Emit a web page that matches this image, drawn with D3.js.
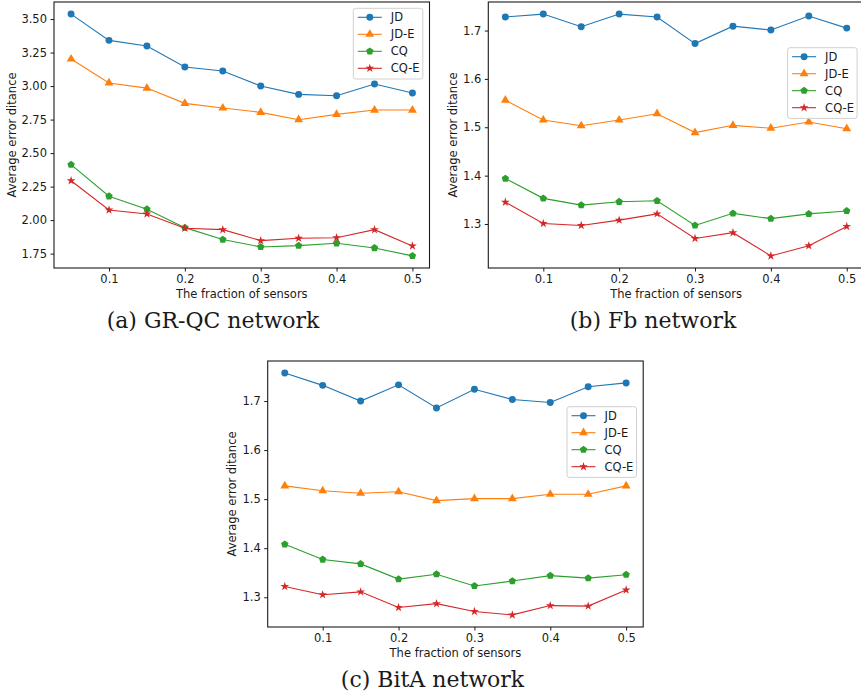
<!DOCTYPE html>
<meta charset="UTF-8">
<style>
body { margin: 0; background: #fff; }
svg { display: block; }
.tick text { font: 11.5px "DejaVu Sans", sans-serif; fill: #1a1a1a; }
.tick line { stroke: #1a1a1a; }
.axis-label { font: 11.5px "DejaVu Sans", sans-serif; fill: #1a1a1a; }
.caption { font: 22px "DejaVu Serif", serif; fill: #1a1a1a; }
.legend text { font: 11.5px "DejaVu Sans", sans-serif; fill: #1a1a1a; }
.frame { fill: none; stroke: #1a1a1a; stroke-width: 1.1; }
.series path.line { fill: none; stroke-width: 1.1; }
</style>
<body>
<script src="https://d3js.org/d3.v7.min.js"></script>
<script>
// x values: fraction of sensors
var fractions = [0.05, 0.1, 0.15, 0.2, 0.25, 0.3, 0.35, 0.4, 0.45, 0.5];
var xTicks = [0.1, 0.2, 0.3, 0.4, 0.5];
var seriesNames = ["JD", "JD-E", "CQ", "CQ-E"];

// (a) GR-QC network
var grqcJD  = [3.537, 3.341, 3.299, 3.142, 3.112, 3.000, 2.938, 2.928, 3.015, 2.948];
var grqcJDE = [3.202, 3.023, 2.985, 2.871, 2.836, 2.804, 2.749, 2.789, 2.821, 2.821];
var grqcCQ  = [2.414, 2.178, 2.081, 1.944, 1.855, 1.800, 1.810, 1.827, 1.792, 1.733];
var grqcCQE = [2.294, 2.076, 2.046, 1.939, 1.929, 1.847, 1.865, 1.869, 1.929, 1.807];
var grqcTicks = [1.75, 2.00, 2.25, 2.50, 2.75, 3.00, 3.25, 3.50];

// (b) Fb network
var fbJD  = [1.728, 1.734, 1.708, 1.734, 1.728, 1.673, 1.709, 1.701, 1.730, 1.705];
var fbJDE = [1.556, 1.515, 1.503, 1.515, 1.528, 1.489, 1.504, 1.498, 1.511, 1.497];
var fbCQ  = [1.394, 1.353, 1.339, 1.346, 1.348, 1.297, 1.322, 1.311, 1.321, 1.327];
var fbCQE = [1.345, 1.301, 1.297, 1.308, 1.321, 1.270, 1.282, 1.234, 1.255, 1.295];
var fbTicks = [1.3, 1.4, 1.5, 1.6, 1.7];

// (c) BitA network
var bitaJD  = [1.757, 1.732, 1.700, 1.733, 1.686, 1.724, 1.703, 1.697, 1.729, 1.737];
var bitaJDE = [1.527, 1.517, 1.512, 1.515, 1.497, 1.501, 1.501, 1.510, 1.510, 1.527];
var bitaCQ  = [1.408, 1.377, 1.368, 1.337, 1.347, 1.323, 1.333, 1.344, 1.339, 1.346];
var bitaCQE = [1.322, 1.305, 1.311, 1.279, 1.287, 1.271, 1.264, 1.283, 1.282, 1.315];
var bitaTicks = [1.3, 1.4, 1.5, 1.6, 1.7];

var colors = ["#1f77b4", "#ff7f0e", "#2ca02c", "#d62728"];

// pentagon marker (matplotlib "p"), d3 has none
var symbolPentagon = {
  draw: function(context, size) {
    var r = Math.sqrt(size / 2.3776);
    for (var i = 0; i < 5; i++) {
      var a = -Math.PI / 2 + i * 2 * Math.PI / 5;
      if (i === 0) context.moveTo(r * Math.cos(a), r * Math.sin(a));
      else context.lineTo(r * Math.cos(a), r * Math.sin(a));
    }
    context.closePath();
  }
};
var markers = [
  d3.symbol().type(d3.symbolCircle).size(38),
  d3.symbol().type(d3.symbolTriangle).size(34),
  d3.symbol().type(symbolPentagon).size(36),
  d3.symbol().type(d3.symbolStar).size(24)
];

var svg = d3.select("body").append("svg")
    .attr("width", 861)
    .attr("height", 698);

var panels = [
  {series: [grqcJD, grqcJDE, grqcCQ, grqcCQE], ticks: grqcTicks, fmt: ".2f",
   left: 54, top: 2, width: 375.5, height: 266, ylabelX: 16,
   legendTop: 6.3, caption: "(a) GR-QC network", capX: 213, capY: 328},
  {series: [fbJD, fbJDE, fbCQ, fbCQE], ticks: fbTicks, fmt: ".1f",
   left: 488.3, top: 2, width: 375.5, height: 266, ylabelX: 456.7,
   legendTop: 45.7, caption: "(b) Fb network", capX: 653, capY: 328},
  {series: [bitaJD, bitaJDE, bitaCQ, bitaCQE], ticks: bitaTicks, fmt: ".1f",
   left: 267.7, top: 361, width: 375.5, height: 266, ylabelX: 236.4,
   legendTop: 45.7, caption: "(c) BitA network", capX: 432.5, capY: 687}
];

panels.forEach(drawPanel);

function drawPanel(p) {
  // matplotlib style 5% margins
  var xPad = (d3.max(fractions) - d3.min(fractions)) * 0.05;
  var allY = d3.merge(p.series);
  var yPad = (d3.max(allY) - d3.min(allY)) * 0.05;

  var x = d3.scaleLinear()
      .domain([d3.min(fractions) - xPad, d3.max(fractions) + xPad])
      .range([0, p.width]);
  var y = d3.scaleLinear()
      .domain([d3.min(allY) - yPad, d3.max(allY) + yPad])
      .range([p.height, 0]);

  var g = svg.append("g")
      .attr("transform", "translate(" + p.left + "," + p.top + ")");

  g.append("g")
      .attr("transform", "translate(0," + p.height + ")")
      .call(d3.axisBottom(x).tickValues(xTicks).tickFormat(d3.format(".1f"))
        .tickSizeInner(3.5).tickSizeOuter(0).tickPadding(3.5))
      .call(function(a) { a.select(".domain").remove(); });

  g.append("g")
      .call(d3.axisLeft(y).tickValues(p.ticks).tickFormat(d3.format(p.fmt))
        .tickSizeInner(3.5).tickSizeOuter(0).tickPadding(3.5))
      .call(function(a) { a.select(".domain").remove(); });

  var line = d3.line()
      .x(function(d, i) { return x(fractions[i]); })
      .y(function(d) { return y(d); });

  p.series.forEach(function(vals, k) {
    var s = g.append("g").attr("class", "series");
    s.append("path")
        .attr("class", "line")
        .attr("stroke", colors[k])
        .attr("d", line(vals));
    s.selectAll("path.mark")
        .data(vals)
      .enter().append("path")
        .attr("class", "mark")
        .attr("fill", colors[k])
        .attr("transform", function(d, i) {
          return "translate(" + x(fractions[i]) + "," + y(d) + ")";
        })
        .attr("d", markers[k]());
  });

  g.append("rect")
      .attr("class", "frame")
      .attr("width", p.width)
      .attr("height", p.height);

  // legend
  var lw = 69.5, lh = 70.7;
  var leg = g.append("g")
      .attr("class", "legend")
      .attr("transform", "translate(" + (p.width - 6.7 - lw) + "," + p.legendTop + ")");
  leg.append("rect")
      .attr("width", lw)
      .attr("height", lh)
      .attr("rx", 2.5)
      .attr("fill", "#fff")
      .attr("fill-opacity", 0.8)
      .attr("stroke", "#d0d0d0")
      .attr("stroke-width", 1);
  seriesNames.forEach(function(name, k) {
    var ey = 9 + k * 17;
    leg.append("line")
        .attr("x1", 4.5).attr("x2", 28.5)
        .attr("y1", ey).attr("y2", ey)
        .attr("stroke", colors[k])
        .attr("stroke-width", 1.1);
    leg.append("path")
        .attr("transform", "translate(16.5," + ey + ")")
        .attr("fill", colors[k])
        .attr("d", markers[k]());
    leg.append("text")
        .attr("x", 37.5)
        .attr("y", ey)
        .attr("dy", "0.36em")
        .text(name);
  });

  g.append("text")
      .attr("class", "axis-label")
      .attr("x", p.width / 2)
      .attr("y", p.height + 29.5)
      .attr("text-anchor", "middle")
      .text("The fraction of sensors");

  svg.append("text")
      .attr("class", "axis-label")
      .attr("transform", "translate(" + p.ylabelX + "," + (p.top + p.height / 2) + ") rotate(-90)")
      .attr("text-anchor", "middle")
      .text("Average error ditance");

  svg.append("text")
      .attr("class", "caption")
      .attr("x", p.capX)
      .attr("y", p.capY)
      .attr("text-anchor", "middle")
      .text(p.caption);
}
</script>
</body>
